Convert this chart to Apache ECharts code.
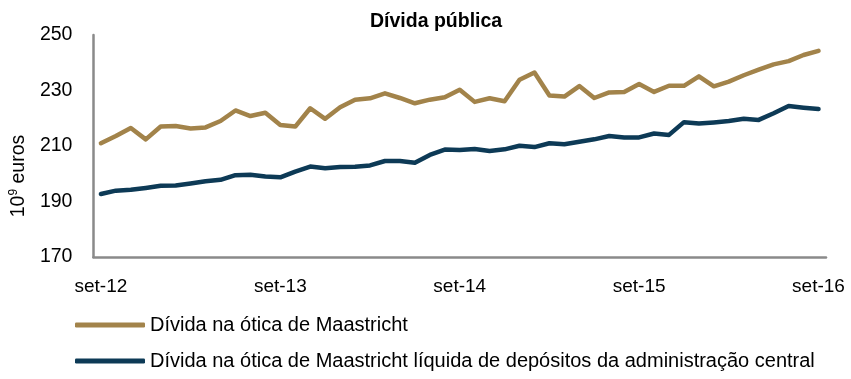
<!DOCTYPE html>
<html>
<head>
<meta charset="utf-8">
<script src="https://cdn.jsdelivr.net/npm/echarts@6/dist/echarts.min.js"></script>
<style>html,body{margin:0;padding:0;background:#fff}#c{width:851px;height:379px}</style>
</head>
<body>
<div id="c"></div>
<script>
const months = ['jan','fev','mar','abr','mai','jun','jul','ago','set','out','nov','dez'];
const categories = [];
for (let y = 12; y <= 16; y++) {
  for (let m = 0; m < 12; m++) {
    if (y === 12 && m < 8) continue;
    if (y === 16 && m > 8) continue;
    categories.push(months[m] + '-' + y);
  }
}
const yTicks = [170, 190, 210, 230, 250];
const seriesNames = ['Dívida na ótica de Maastricht', 'Dívida na ótica de Maastricht líquida de depósitos da administração central'];
const maastricht = [211.0, 213.6, 216.5, 212.4, 217.0, 217.2, 216.3, 216.7, 219.0, 222.8, 220.8, 222.0, 217.6, 217.0, 223.6, 219.8, 224.0, 226.7, 227.2, 229.0, 227.3, 225.4, 226.7, 227.6, 230.3, 225.9, 227.2, 226.1, 233.9, 236.5, 228.2, 227.8, 231.6, 227.3, 229.3, 229.5, 232.3, 229.5, 231.7, 231.7, 235.1, 231.5, 233.2, 235.5, 237.5, 239.4, 240.6, 242.8, 244.3];
const liquida = [192.7, 193.9, 194.2, 194.9, 195.7, 195.8, 196.5, 197.3, 197.8, 199.5, 199.6, 199.0, 198.7, 200.8, 202.6, 202.0, 202.4, 202.5, 203.0, 204.6, 204.6, 204.0, 206.8, 208.7, 208.6, 208.9, 208.2, 208.8, 210.1, 209.6, 211.0, 210.6, 211.5, 212.4, 213.6, 213.1, 213.1, 214.5, 214.0, 218.6, 218.1, 218.5, 219.0, 219.8, 219.4, 221.8, 224.4, 223.8, 223.3];

const FONT = '"Liberation Sans", Arial, sans-serif';
const legendBase = {
  orient: 'horizontal', left: 75, padding: 0,
  itemWidth: 70, itemHeight: 5, icon: 'roundRect',
  textStyle: {fontFamily: FONT, fontSize: 20, color: '#000'}
};
const chart = echarts.init(document.getElementById('c'), null, {renderer: 'canvas'});
chart.setOption({
  animation: false,
  backgroundColor: '#ffffff',
  title: {
    text: 'Dívida pública',
    left: 365, top: 7,
    textStyle: {fontFamily: FONT, fontSize: 19.5, fontWeight: 'bold', color: '#000'}
  },
  grid: {left: 91, right: 25, top: 35, bottom: 122, containLabel: false},
  legend: [
    Object.assign({}, legendBase, {top: 315, data: [seriesNames[0]]}),
    Object.assign({}, legendBase, {top: 351, data: [seriesNames[1]]})
  ],
  xAxis: {
    type: 'category', data: categories, boundaryGap: true,
    axisLine: {lineStyle: {color: '#8a8a8a', width: 2.5}},
    axisTick: {show: false},
    axisLabel: {interval: 11, margin: 20, fontFamily: FONT, fontSize: 19, color: '#000'},
    splitLine: {show: false}
  },
  yAxis: {
    type: 'value', min: yTicks[0], max: yTicks[yTicks.length - 1], interval: 20,
    name: '{a|10}{b|9}{a| euros}', nameLocation: 'middle', nameGap: 62, nameRotate: 90,
    nameTextStyle: {
      fontFamily: FONT, color: '#000', padding: [0, 60, 0, 0],
      rich: {
        a: {fontFamily: FONT, fontSize: 19.5, color: '#000', lineHeight: 22},
        b: {fontFamily: FONT, fontSize: 12, color: '#000', lineHeight: 22, verticalAlign: 'top'}
      }
    },
    axisLine: {show: true, lineStyle: {color: '#8a8a8a', width: 2.5}},
    axisTick: {show: false},
    axisLabel: {margin: 21, fontFamily: FONT, fontSize: 19.5, color: '#000'},
    splitLine: {show: false}
  },
  series: [
    {name: seriesNames[0], type: 'line', data: maastricht, symbol: 'none', color: '#A2834A',
     lineStyle: {width: 4.5, color: '#A2834A', cap: 'round', join: 'round'}},
    {name: seriesNames[1], type: 'line', data: liquida, symbol: 'none', color: '#0D3A56',
     lineStyle: {width: 4.5, color: '#0D3A56', cap: 'round', join: 'round'}}
  ]
});
</script>
</body>
</html>
